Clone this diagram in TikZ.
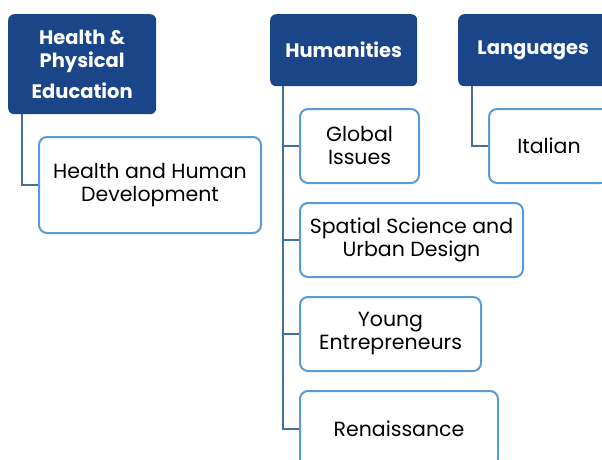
\documentclass[tikz,border=0pt]{standalone}
\usepackage{fontspec}
\setmainfont{Poppins}
\usetikzlibrary{positioning}
\definecolor{headblue}{RGB}{27,69,137}
\definecolor{boxblue}{RGB}{91,155,213}
\definecolor{linkblue}{RGB}{65,113,156}

\begin{document}
\begin{tikzpicture}[x=1pt, y=-1pt,
  head/.style = {rectangle, rounded corners=6pt, fill=headblue, text=white,
                 font=\fontsize{19.5}{23}\selectfont\bfseries, align=center,
                 anchor=north west, inner sep=0pt},
  item/.style = {rectangle, rounded corners=8pt, draw=boxblue, line width=2pt,
                 fill=white, font=\fontsize{20.5}{23}\selectfont, align=center,
                 anchor=north west, inner sep=0pt},
  link/.style = {draw=linkblue, line width=2.2pt}]
\useasboundingbox (0,0) rectangle (602,459);
\clip (0,0) rectangle (602,459);

\node[head, minimum width=148, minimum height=100] (hpe) at (8,14)
  {Health \&\\ Physical\\[8pt] Education};
\node[head, minimum width=147, minimum height=72] (hum) at (270,14) {Humanities};
\node[head, minimum width=150, minimum height=72] (lang) at (458,14) {Languages};

\node[item, minimum width=222, minimum height=96] (hhd) at (38,136)
  {Health and Human\\ Development};
\node[item, minimum width=119, minimum height=74] (gi) at (299,108) {Global\\ Issues};
\node[item, minimum width=223, minimum height=74] (ssud) at (299,202)
  {Spatial Science and\\ Urban Design};
\node[item, minimum width=181, minimum height=74] (ye) at (299,296)
  {Young\\ Entrepreneurs};
\node[item, minimum width=198, minimum height=76] (ren) at (299,390) {Renaissance};
\node[item, minimum width=120, minimum height=74] (ita) at (488,108) {Italian};

\draw[link] ([xshift=14pt]hpe.south west) |- (hhd.west);
\draw[link] ([xshift=13pt]hum.south west) |- (ren.west);
\draw[link] ([xshift=13pt]hum.south west) |- (gi.west);
\draw[link] ([xshift=13pt]hum.south west) |- (ssud.west);
\draw[link] ([xshift=13pt]hum.south west) |- (ye.west);
\draw[link] ([xshift=14pt]lang.south west) |- (ita.west);
\end{tikzpicture}
\end{document}
